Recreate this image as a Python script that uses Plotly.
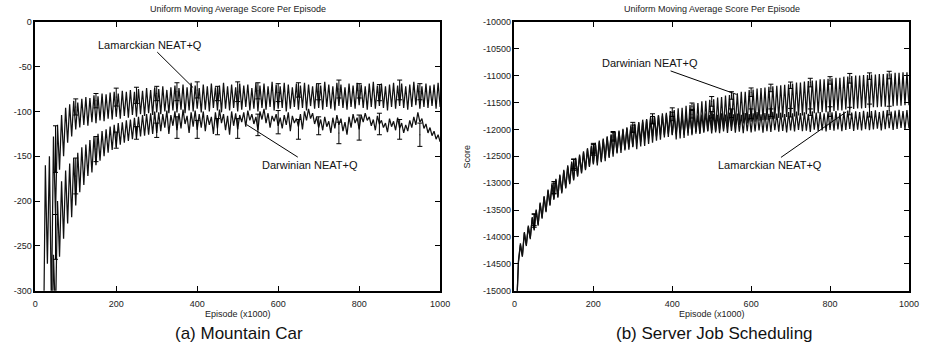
import plotly.graph_objects as go

# ---------------- data ----------------
# moving-average cycles (episode x1000); each cycle has a local peak and a dip
cycles = list(range(10, 1001, 10))

# (a) Mountain Car
mc_lam_peak = [None, -420, -160, -150, -128, -115, -104, -96, -92, -88,
               -90, -86, -84, -85, -82, -83, -80, -81, -79, -78,
               -80, -77, -78, -76, -78, -75, -77, -74, -76, -73,
               -75, -72, -76, -73, -71, -74, -70, -73, -68, -71,
               -74, -70, -72, -69, -73, -71, -68, -72, -70, -73,
               -69, -71, -70, -74, -68, -71, -69, -72, -67, -70,
               -72, -68, -70, -73, -69, -71, -68, -70, -72, -69,
               -71, -67, -70, -72, -68, -70, -73, -69, -71, -68,
               -70, -72, -69, -67, -71, -69, -72, -70, -68, -71,
               -69, -72, -70, -67, -70, -72, -69, -71, -70, -68]
mc_lam_dip = [None, -380, -270, -320, -215, -165, -150, -135, -128, -120,
              -118, -115, -116, -112, -113, -110, -111, -108, -109, -106,
              -108, -105, -107, -104, -106, -103, -105, -102, -104, -101,
              -103, -100, -102, -99, -101, -98, -102, -99, -100, -97,
              -101, -98, -100, -96, -99, -101, -97, -99, -96, -100,
              -98, -95, -99, -97, -100, -96, -98, -95, -99, -97,
              -96, -100, -97, -95, -98, -96, -99, -94, -97, -96,
              -98, -95, -97, -99, -94, -96, -98, -95, -97, -93,
              -96, -98, -95, -97, -94, -96, -99, -95, -97, -94,
              -96, -98, -95, -93, -97, -95, -96, -94, -97, -95]
mc_dar_peak = [None, None, None, -420, -260, -200, -178, -166, -158, -152,
               -146, -140, -137, -132, -128, -125, -122, -120, -117, -115,
               -113, -112, -110, -109, -107, -106, -104, -103, -102, -100,
               -101, -103, -99, -104, -100, -102, -98, -105, -101, -99,
               -103, -100, -104, -106, -101, -98, -103, -105, -100, -102,
               -104, -101, -99, -103, -106, -100, -97, -102, -105, -103,
               -107, -104, -101, -105, -108, -103, -100, -97, -102, -106,
               -109, -106, -111, -107, -104, -108, -112, -106, -103, -107,
               -104, -102, -106, -109, -105, -110, -113, -108, -111, -107,
               -113, -115, -110, -106, -101, -108, -114, -118, -122, -126]
mc_dar_dip = [None, None, None, -400, -330, -262, -242, -225, -218, -205,
              -190, -182, -172, -168, -160, -155, -150, -146, -143, -140,
              -137, -135, -133, -131, -130, -128, -127, -126, -125, -124,
              -122, -118, -125, -116, -121, -119, -114, -124, -117, -120,
              -118, -122, -115, -125, -119, -113, -121, -126, -116, -120,
              -112, -117, -110, -114, -121, -109, -113, -118, -111, -116,
              -119, -115, -122, -113, -117, -120, -110, -108, -114, -118,
              -121, -117, -124, -119, -115, -122, -126, -118, -113, -120,
              -112, -110, -116, -121, -114, -118, -123, -117, -121, -119,
              -124, -122, -118, -115, -112, -119, -124, -127, -131, -134]

# error bars every 50 episodes
eb_x = [50, 100, 150, 200, 250, 300, 350, 400, 450, 500,
        550, 600, 650, 700, 750, 800, 850, 900, 950]
mc_lam_eb = [-142, -95, -88, -84, -82, -80, -78, -76, -80, -78,
             -77, -79, -76, -78, -75, -77, -79, -76, -78]
mc_lam_err = [26, 9, 8, 10, 9, 8, 10, 9, 8, 11, 9, 10, 8, 9, 10, 8, 9, 11, 9]
mc_dar_eb = [-240, -172, -142, -132, -124, -121, -118, -120, -117, -119,
             -115, -112, -120, -116, -124, -118, -114, -120, -126]
mc_dar_err = [25, 20, 14, 9, 7, 8, 12, 10, 9, 11, 12, 13, 11, 10, 12, 14, 12, 11, 13]

# (b) Server Job Scheduling
sj_dar_peak = [-15400, -14120, -13910, -13790, -13650, -13490, -13380, -13240, -13140, -13010,
               -12940, -12840, -12770, -12670, -12620, -12530, -12490, -12410, -12370, -12300,
               -12270, -12210, -12190, -12130, -12110, -12050, -12040, -11990, -11980, -11930,
               -11920, -11870, -11860, -11820, -11800, -11760, -11740, -11700, -11690, -11660,
               -11640, -11610, -11600, -11560, -11550, -11520, -11510, -11480, -11470, -11450,
               -11440, -11410, -11400, -11370, -11360, -11340, -11330, -11300, -11300, -11270,
               -11260, -11240, -11230, -11220, -11210, -11200, -11190, -11180, -11170, -11160,
               -11150, -11130, -11130, -11110, -11100, -11090, -11090, -11070, -11070, -11060,
               -11050, -11040, -11040, -11020, -11020, -11010, -11000, -11000, -10990, -10990,
               -10980, -10980, -10970, -10970, -10960, -10960, -10950, -10950, -10940, -10940]
sj_dar_dip = [-14450, -14350, -14150, -14020, -13880, -13770, -13660, -13520, -13420, -13290,
              -13270, -13170, -13100, -13000, -12950, -12860, -12820, -12740, -12700, -12630,
              -12670, -12610, -12590, -12530, -12510, -12450, -12440, -12390, -12380, -12330,
              -12370, -12320, -12310, -12270, -12250, -12210, -12190, -12150, -12140, -12110,
              -12190, -12170, -12160, -12120, -12110, -12080, -12070, -12040, -12030, -12010,
              -12030, -12000, -11990, -11960, -11950, -11930, -11920, -11890, -11890, -11860,
              -11860, -11840, -11830, -11820, -11810, -11800, -11790, -11780, -11770, -11760,
              -11760, -11740, -11740, -11720, -11710, -11700, -11700, -11680, -11680, -11670,
              -11660, -11650, -11650, -11630, -11630, -11620, -11610, -11610, -11600, -11600,
              -11590, -11590, -11580, -11580, -11570, -11570, -11560, -11560, -11550, -11550]
sj_lam_peak = [-15400, -14150, -13930, -13810, -13630, -13510, -13360, -13260, -13120, -13030,
               -12920, -12860, -12750, -12690, -12600, -12550, -12470, -12430, -12350, -12320,
               -12250, -12230, -12170, -12150, -12090, -12070, -12020, -12010, -11960, -11950,
               -11890, -11870, -11820, -11810, -11770, -11770, -11740, -11750, -11720, -11740,
               -11750, -11730, -11760, -11720, -11745, -11710, -11740, -11725, -11700, -11735,
               -11715, -11730, -11700, -11725, -11690, -11720, -11705, -11730, -11695, -11715,
               -11700, -11680, -11720, -11695, -11710, -11675, -11705, -11690, -11715, -11680,
               -11700, -11670, -11695, -11685, -11710, -11665, -11690, -11680, -11700, -11670,
               -11685, -11660, -11695, -11670, -11650, -11690, -11665, -11680, -11655, -11675,
               -11660, -11645, -11680, -11655, -11640, -11670, -11650, -11635, -11660, -11640]
sj_lam_dip = [-14480, -14370, -14170, -14040, -13860, -13790, -13640, -13540, -13400, -13310,
              -13250, -13190, -13080, -13020, -12930, -12880, -12800, -12760, -12680, -12650,
              -12620, -12590, -12530, -12510, -12450, -12430, -12380, -12370, -12330, -12320,
              -12250, -12230, -12180, -12170, -12130, -12130, -12100, -12110, -12080, -12100,
              -12090, -12070, -12100, -12060, -12080, -12050, -12085, -12060, -12040, -12075,
              -12055, -12070, -12040, -12065, -12030, -12060, -12045, -12070, -12035, -12055,
              -12040, -12020, -12060, -12035, -12050, -12015, -12045, -12030, -12055, -12020,
              -12040, -12010, -12035, -12025, -12050, -12005, -12030, -12020, -12040, -12010,
              -12025, -12000, -12035, -12010, -11990, -12030, -12005, -12020, -11995, -12015,
              -12000, -11985, -12020, -11995, -11980, -12010, -11990, -11975, -12000, -11980]
sj_dar_eb = [-13700, -13080, -12660, -12350, -12120, -11960, -11830, -11680, -11570, -11480,
             -11370, -11310, -11230, -11180, -11130, -11090, -11050, -11010, -10990]
sj_dar_err = [120, 110, 100, 90, 80, 90, 70, 80, 60, 90, 70, 80, 70, 60, 80, 70, 90, 60, 70]
sj_lam_eb = [-13680, -13100, -12640, -12380, -12140, -11990, -11800, -11760, -11720, -11730,
             -11700, -11710, -11690, -11690, -11680, -11670, -11660, -11650, -11650]
sj_lam_err = [110, 100, 90, 100, 80, 70, 90, 80, 70, 60, 80, 90, 70, 80, 60, 90, 70, 120, 80]

x_ticks = [0, 200, 400, 600, 800, 1000]
x_tick_text = ["0", "200", "400", "600", "800", "1000"]
mc_y_ticks = [0, -50, -100, -150, -200, -250, -300]
mc_y_text = ["0", "-50", "-100", "-150", "-200", "-250", "-300"]
sj_y_ticks = [-10000, -10500, -11000, -11500, -12000, -12500, -13000, -13500, -14000, -14500, -15000]
sj_y_text = ["-10000", "-10500", "-11000", "-11500", "-12000", "-12500", "-13000",
             "-13500", "-14000", "-14500", "-15000"]

# ---------------- figure ----------------
W, H = 934, 354
FONT = "Liberation Sans, Arial, sans-serif"


def sawtooth(peaks, dips):
    xs, ys = [], []
    for c, p, d in zip(cycles, peaks, dips):
        if p is None:
            continue
        xs += [c - 5, c]
        ys += [p, d]
    return xs, ys


fig = go.Figure()
line = dict(color="#111", width=1.25)
for peaks, dips, ax in [(mc_lam_peak, mc_lam_dip, 1), (mc_dar_peak, mc_dar_dip, 1),
                        (sj_lam_peak, sj_lam_dip, 2), (sj_dar_peak, sj_dar_dip, 2)]:
    xs, ys = sawtooth(peaks, dips)
    fig.add_trace(go.Scatter(x=xs, y=ys, mode="lines", line=line,
                             xaxis="x" if ax == 1 else "x2",
                             yaxis="y" if ax == 1 else "y2", showlegend=False,
                             hoverinfo="skip"))

for ys, err, ax in [(mc_lam_eb, mc_lam_err, 1), (mc_dar_eb, mc_dar_err, 1),
                    (sj_lam_eb, sj_lam_err, 2), (sj_dar_eb, sj_dar_err, 2)]:
    fig.add_trace(go.Scatter(x=eb_x, y=ys, mode="markers",
                             marker=dict(size=1, color="black"),
                             error_y=dict(type="data", array=err, color="black",
                                          thickness=1, width=2.5),
                             xaxis="x" if ax == 1 else "x2",
                             yaxis="y" if ax == 1 else "y2", showlegend=False,
                             hoverinfo="skip"))

px_x = lambda p: p / W
px_y = lambda p: 1 - p / H

common = dict(showline=True, linecolor="black", linewidth=1.5, mirror="allticks",
              ticks="inside", ticklen=5, tickcolor="black", tickwidth=1,
              showgrid=False, zeroline=False,
              tickfont=dict(family=FONT, size=9, color="#222"))

fig.update_layout(
    width=W, height=H, margin=dict(l=0, r=0, t=0, b=0),
    paper_bgcolor="white", plot_bgcolor="white",
    font=dict(family=FONT, color="#222"),
    xaxis=dict(domain=[px_x(32.7), px_x(443.3)], range=[0, 1000], tickvals=x_ticks,
               ticktext=x_tick_text, ticklabelstandoff=4, anchor="y", **common),
    yaxis=dict(domain=[px_y(294), px_y(17.3)], range=[-300, 0], tickvals=mc_y_ticks,
               ticktext=mc_y_text, anchor="x", **common),
    xaxis2=dict(domain=[px_x(518.7), px_x(918.7)], range=[0, 1000], tickvals=x_ticks,
                ticktext=x_tick_text, ticklabelstandoff=4, anchor="y2", **common),
    yaxis2=dict(domain=[px_y(294), px_y(17.3)], range=[-15000, -10000], tickvals=sj_y_ticks,
                ticktext=sj_y_text, anchor="x2", **common),
)

ann = []
for cx in (238, 719):
    ann.append(dict(text="Uniform Moving Average Score Per Episode", x=px_x(cx), y=px_y(4.5),
                    xref="paper", yref="paper", showarrow=False, xanchor="center", yanchor="middle",
                    font=dict(size=9, family=FONT, color="#222")))
for cx in (238, 719):
    ann.append(dict(text="Episode (x1000)", x=px_x(cx), y=px_y(318),
                    xref="paper", yref="paper", showarrow=False, xanchor="center", yanchor="middle",
                    font=dict(size=9, family=FONT, color="#222")))
ann.append(dict(text="Score", x=px_x(471), y=px_y(155.5), textangle=-90,
                xref="paper", yref="paper", showarrow=False, xanchor="center", yanchor="middle",
                font=dict(size=9, family=FONT, color="#222")))
ann.append(dict(text="(a) Mountain Car", x=px_x(239.5), y=px_y(338),
                xref="paper", yref="paper", showarrow=False, xanchor="center", yanchor="middle",
                font=dict(size=17, family=FONT, color="#111")))
ann.append(dict(text="(b) Server Job Scheduling", x=px_x(722), y=px_y(338),
                xref="paper", yref="paper", showarrow=False, xanchor="center", yanchor="middle",
                font=dict(size=17, family=FONT, color="#111")))

lab = dict(showarrow=True, arrowhead=0, arrowwidth=1, arrowcolor="black",
           font=dict(size=11, family=FONT, color="#111"), standoff=0, startstandoff=0)
ann.append(dict(text="Lamarckian NEAT+Q", x=390, y=-73.4, xref="x", yref="y", ax=-43.5, ay=-43, **lab))
ann.append(dict(text="Darwinian NEAT+Q", x=522, y=-114.7, xref="x", yref="y", ax=63, ay=40, **lab))
ann.append(dict(text="Darwinian NEAT+Q", x=563, y=-11350, xref="x2", yref="y2", ax=-87, ay=-31, **lab))
ann.append(dict(text="Lamarckian NEAT+Q", x=841, y=-11675, xref="x2", yref="y2", ax=-76, ay=53, **lab))
fig.update_layout(annotations=ann)

fig.write_html("out.html")
